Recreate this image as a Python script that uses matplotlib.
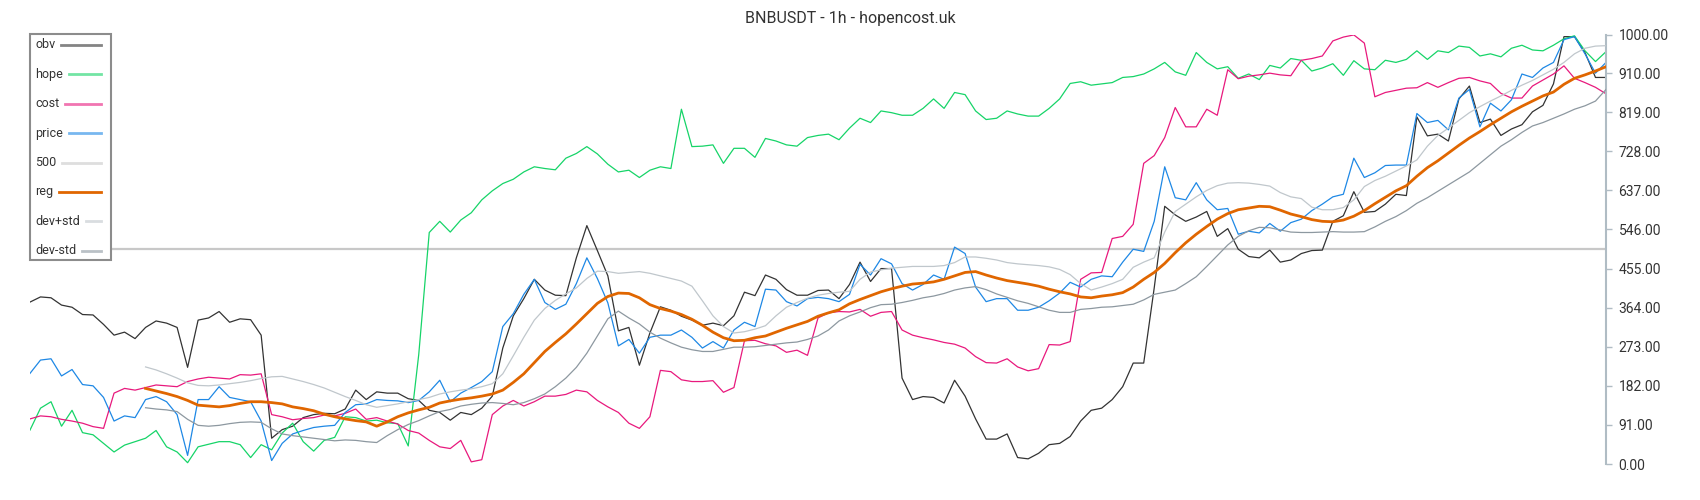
import numpy as np
import matplotlib.pyplot as plt
from matplotlib.patches import Rectangle
from matplotlib.lines import Line2D

plt.rcParams['font.family'] = ['Roboto', 'DejaVu Sans']

nan = np.nan

title = "BNBUSDT - 1h - hopencost.uk"

obv = [377, 389, 387, 370, 365, 348, 347, 325, 300, 307, 292, 318, 333, 328, 318, 225, 335, 340, 355, 330,
       338, 336, 300, 60, 80, 88, 108, 115, 118, 117, 128, 172, 150, 168, 165, 165, 152, 148, 125, 120,
       102, 120, 115, 130, 158, 270, 345, 385, 430, 405, 393, 392, 480, 555, 497, 438, 310, 318, 230, 305,
       366, 358, 344, 335, 323, 328, 322, 345, 400, 392, 440, 430, 406, 393, 393, 404, 405, 385, 418, 470,
       425, 455, 455, 200, 150, 157, 155, 142, 195, 158, 105, 58, 58, 70, 15, 12, 25, 45, 48, 64,
       100, 125, 130, 150, 180, 235, 235, 410, 600, 580, 565, 575, 588, 530, 548, 500, 483, 480, 498, 470,
       475, 490, 497, 498, 565, 578, 634, 586, 588, 605, 628, 625, 808, 764, 768, 752, 850, 880, 795, 803,
       765, 780, 790, 820, 835, 885, 995, 995, 958, 900, 900]

hope = [79, 130, 145, 88, 125, 73, 68, 48, 28, 44, 52, 60, 78, 40, 28, 3, 40, 46, 52, 52,
        45, 15, 45, 33, 72, 95, 52, 30, 55, 62, 110, 108, 100, 102, 96, 94, 42, 255, 539, 565,
        540, 568, 585, 615, 636, 653, 663, 680, 692, 688, 685, 712, 723, 739, 722, 698, 680, 684, 667, 684,
        692, 688, 826, 739, 740, 743, 700, 735, 735, 714, 758, 752, 743, 740, 760, 765, 768, 755, 782, 805,
        795, 822, 818, 812, 812, 828, 850, 828, 865, 860, 822, 802, 805, 822, 815, 810, 810, 828, 850, 886,
        890, 882, 885, 888, 900, 902, 908, 920, 935, 913, 905, 958, 935, 920, 925, 898, 908, 895, 928, 922,
        944, 940, 915, 922, 932, 905, 939, 920, 918, 940, 935, 942, 962, 942, 962, 958, 973, 970, 950, 955,
        948, 968, 975, 964, 962, 975, 990, 997, 962, 937, 960]

cost = [105, 112, 110, 104, 100, 95, 87, 83, 165, 176, 172, 178, 184, 182, 180, 192, 198, 202, 200, 198,
        208, 207, 210, 115, 110, 103, 106, 108, 114, 112, 118, 128, 104, 108, 100, 93, 78, 72, 55, 40,
        36, 55, 5, 10, 115, 135, 148, 135, 145, 158, 158, 162, 172, 168, 148, 133, 120, 95, 83, 110,
        218, 215, 196, 192, 192, 194, 167, 178, 287, 288, 280, 275, 260, 265, 253, 340, 352, 355, 354, 360,
        344, 353, 355, 312, 300, 294, 289, 283, 279, 270, 250, 236, 235, 245, 226, 217, 222, 278, 277, 285,
        430, 445, 446, 525, 530, 558, 700, 718, 760, 830, 785, 785, 826, 812, 918, 897, 903, 906, 910, 906,
        904, 940, 944, 950, 985, 994, 999, 980, 855, 865, 870, 875, 876, 888, 877, 888, 898, 900, 892, 886,
        863, 852, 852, 880, 894, 908, 927, 898, 888, 877, 862]

price = [211, 242, 245, 205, 220, 185, 182, 155, 100, 112, 108, 150, 157, 145, 115, 20, 150, 150, 180, 155,
         150, 145, 100, 8, 48, 70, 78, 85, 88, 90, 120, 138, 140, 150, 148, 147, 143, 148, 168, 195,
         145, 165, 178, 192, 215, 320, 350, 395, 430, 376, 360, 372, 420, 480, 432, 375, 275, 290, 258, 295,
         300, 300, 312, 295, 270, 285, 270, 312, 330, 320, 407, 405, 378, 368, 385, 388, 385, 378, 395, 465,
         440, 478, 466, 420, 405, 418, 440, 430, 505, 490, 412, 378, 385, 385, 358, 358, 365, 380, 398, 423,
         412, 430, 438, 436, 470, 500, 495, 565, 692, 620, 615, 655, 615, 592, 595, 535, 542, 538, 560, 542,
         562, 570, 590, 605, 622, 628, 712, 667, 678, 695, 696, 696, 816, 795, 800, 778, 852, 872, 785, 840,
         822, 848, 908, 900, 922, 935, 988, 995, 955, 910, 935]

level_500 = 500

reg = [nan] * 11 + [
    176, 170, 164, 157, 148, 137, 135, 133, 136, 141, 145, 145, 143, 140, 133, 129, 124, 116, 110,
    105, 101, 98, 88, 98, 110, 119, 126, 132, 142, 147, 151, 154, 158, 163, 172, 190, 210, 236, 262,
    283, 303, 326, 350, 374, 390, 398, 397, 387, 371, 362, 356, 348, 337, 323, 307, 294, 287, 288, 294,
    298, 307, 316, 324, 332, 344, 352, 359, 373, 383, 392, 401, 408, 414, 419, 421, 424, 430, 438, 446,
    448, 440, 433, 427, 423, 419, 414, 407, 401, 396, 389, 387, 391, 394, 399, 412, 430, 446, 467, 492,
    515, 535, 553, 570, 583, 592, 596, 600, 599, 591, 582, 576, 569, 565, 564, 568, 577, 590, 606, 621,
    636, 648, 670, 690, 706, 724, 742, 759, 774, 790, 805, 820, 833, 845, 857, 866, 884, 898, 906, 915, 925]

dev_plus_std = [nan] * 11 + [
    226, 219, 210, 200, 189, 183, 182, 184, 187, 190, 194, 199, 203, 204, 198, 192, 185, 177, 167,
    157, 148, 138, 132, 136, 140, 145, 150, 155, 163, 168, 172, 175, 180, 187, 210, 252, 295, 335, 362,
    381, 396, 410, 432, 449, 448, 444, 446, 448, 444, 438, 432, 426, 414, 380, 345, 320, 305, 308, 314,
    322, 345, 365, 376, 386, 393, 397, 400, 402, 430, 447, 452, 456, 458, 460, 460, 460, 462, 469, 482,
    482, 479, 475, 469, 466, 464, 462, 459, 453, 441, 420, 405, 412, 420, 430, 458, 470, 480, 540, 588,
    605, 622, 637, 648, 654, 655, 654, 651, 647, 632, 622, 618, 598, 592, 592, 597, 615, 646, 660, 670,
    682, 694, 708, 740, 765, 782, 800, 818, 832, 845, 857, 870, 882, 893, 906, 919, 935, 955, 968, 973, 974]

dev_minus_std = [nan] * 11 + [
    131, 128, 126, 122, 104, 90, 88, 90, 94, 97, 98, 97, 82, 70, 66, 63, 60, 57, 54,
    56, 55, 52, 50, 66, 80, 92, 101, 112, 122, 127, 135, 139, 142, 143, 141, 138, 143, 152, 163,
    180, 200, 225, 258, 298, 338, 356, 340, 326, 307, 293, 282, 272, 266, 262, 262, 267, 272, 272, 273,
    276, 279, 282, 284, 290, 298, 312, 333, 345, 354, 364, 371, 372, 376, 381, 387, 391, 397, 405, 410,
    413, 406, 396, 388, 380, 374, 366, 358, 353, 353, 360, 362, 365, 366, 369, 372, 382, 395, 400, 405,
    420, 436, 460, 485, 510, 530, 543, 551, 550, 545, 540, 539, 539, 540, 541, 540, 540, 541, 552, 565,
    576, 590, 607, 620, 635, 650, 665, 680, 700, 720, 740, 755, 772, 787, 795, 805, 815, 826, 834, 845, 872]

y_ticks = [0, 91, 182, 273, 364, 455, 546, 637, 728, 819, 910, 1000]

W, H = 1700, 500
x = np.arange(len(obv))

fig = plt.figure(figsize=(17, 5), dpi=100)
ax = fig.add_axes([30 / W, 36 / H, 1576 / W, 429.5 / H])

l500 = ax.axhline(level_500, color='#c8c8c8', lw=1.6, zorder=1)
l_obv, = ax.plot(x, obv, color='#333333', lw=0.9, zorder=2)
l_hope, = ax.plot(x, hope, color='#16d468', lw=0.9, zorder=2)
l_cost, = ax.plot(x, cost, color='#e8197d', lw=0.9, zorder=2)
l_price, = ax.plot(x, price, color='#1e88e5', lw=0.9, zorder=2)
l_reg, = ax.plot(x, reg, color='#e06600', lw=2.0, zorder=3)
l_up, = ax.plot(x, dev_plus_std, color='#c0c7cc', lw=0.9, zorder=3)
l_dn, = ax.plot(x, dev_minus_std, color='#8d98a0', lw=0.9, zorder=3)

ax.set_xlim(0, len(obv) - 1)
ax.set_ylim(0, 1000)

for s in ['top', 'left', 'bottom']:
    ax.spines[s].set_visible(False)
ax.spines['right'].set_color('#b0bcc4')
ax.spines['right'].set_linewidth(1.5)
ax.set_xticks([])
ax.yaxis.tick_right()
ax.set_yticks(y_ticks)
ax.set_yticklabels(['%.2f' % v for v in y_ticks])
ax.tick_params(axis='y', length=4, width=1, color='#b0bcc4', labelsize=10,
               labelcolor='#333333', pad=5)

# legend drawn by hand: labels left, swatches right-aligned
handles = [l_obv, l_hope, l_cost, l_price, l500, l_reg, l_up, l_dn]
labels = ['obv', 'hope', 'cost', 'price', '500', 'reg', 'dev+std', 'dev-std']

fig.add_artist(Rectangle((30 / W, 1 - 260 / H), 81 / W, 226 / H, transform=fig.transFigure,
                         facecolor='white', edgecolor='#8c8c8c', lw=1.5, zorder=10))
fig.canvas.draw()
renderer = fig.canvas.get_renderer()
for k, (h, lab) in enumerate(zip(handles, labels)):
    yc = 1 - (45 + k * 29.4) / H
    t = fig.text(35 / W, yc, lab, ha='left', va='center', fontsize=9,
                 color='#333333', zorder=11)
    x_end = t.get_window_extent(renderer).x1 + 6
    alpha = 1.0 if lab == 'reg' else 0.6
    fig.add_artist(Line2D([x_end / W, 101 / W], [yc, yc], transform=fig.transFigure,
                          color=h.get_color(), lw=2, alpha=alpha, zorder=11))

fig.text(0.5, 1 - 18 / H, title, ha='center', va='center', fontsize=11.5, color='#333333')

fig.savefig('out.png', dpi=100)
